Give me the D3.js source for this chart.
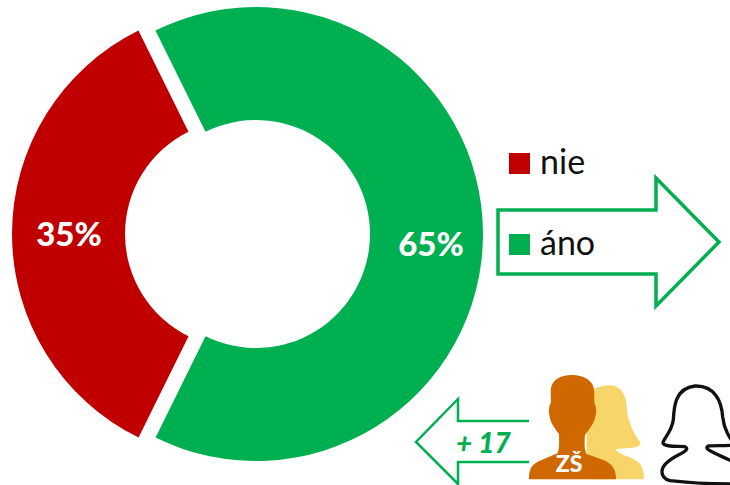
<!DOCTYPE html>
<html>
<head>
<meta charset="utf-8">
<script src="https://cdn.jsdelivr.net/npm/d3@7"></script>
<style>
body { margin: 0; background: #fff; overflow: hidden; }
text { font-family: Lato, "Noto Sans", sans-serif; }
</style>
</head>
<body>
<div id="chart"></div>
<script>
var categories = ["áno", "nie"];
var values = [64.6, 35.4];
var percent_labels = ["65%", "35%"];
var colors = ["#00B050", "#C00000"];
var legend_order = ["nie", "áno"];

var width = 730, height = 485;
var center_x = 247.5, center_y = 234;
var outer_r = 227, inner_r = 114, explode = 8.5;
var start_deg = -26.3;
var label_shift = [[4.5, 10], [0.5, 0]];

var svg = d3.select("#chart")
    .append("svg")
    .attr("width", width)
    .attr("height", height);

var color = d3.scaleOrdinal().domain(categories).range(colors);

var pie = d3.pie()
    .sort(null)
    .startAngle(start_deg * Math.PI / 180)
    .endAngle((start_deg + 360) * Math.PI / 180);

var arc = d3.arc().innerRadius(inner_r).outerRadius(outer_r);

var slices = svg.append("g")
    .attr("transform", `translate(${center_x}, ${center_y})`)
    .selectAll("g")
    .data(pie(values))
    .enter()
    .append("g")
    .attr("transform", function(d) {
        var mid = (d.startAngle + d.endAngle) / 2;
        return `translate(${Math.sin(mid) * explode}, ${-Math.cos(mid) * explode})`;
    });

slices.append("path")
    .attr("d", arc)
    .attr("fill", function(d, i) { return color(categories[i]); });

slices.append("text")
    .attr("transform", function(d, i) {
        var c = arc.centroid(d);
        return `translate(${c[0] + label_shift[i][0]}, ${c[1] + label_shift[i][1]})`;
    })
    .attr("text-anchor", "middle")
    .attr("dy", "0.35em")
    .attr("fill", "#fff")
    .style("font-size", "33px")
    .style("font-weight", "900")
    .text(function(d, i) { return percent_labels[i]; });

// big arrow behind the legend
svg.append("path")
    .attr("d", "M498,210 H656 V178 L719,242 L656,306 V274 H498 Z")
    .attr("fill", "#fff")
    .attr("stroke", "#00B050")
    .attr("stroke-width", 3.5);

var legend_y = d3.scalePoint().domain(legend_order).range([153, 234]);

var legend = svg.selectAll(".legend")
    .data(legend_order)
    .enter()
    .append("g")
    .attr("class", "legend")
    .attr("transform", function(d) { return `translate(509, ${legend_y(d)})`; });

legend.append("rect")
    .attr("width", 21)
    .attr("height", 21)
    .attr("fill", function(d) { return color(d); });

legend.append("text")
    .attr("x", 31)
    .attr("y", 21)
    .attr("fill", "#111")
    .style("font-size", "34px")
    .text(function(d) { return d; });

// small arrow, open on the right side
svg.append("path")
    .attr("d", "M529,421 H458 V399 L416,442 L458,484 V462 H529")
    .attr("fill", "none")
    .attr("stroke", "#00B050")
    .attr("stroke-width", 2.5);

svg.append("text")
    .attr("x", 456)
    .attr("y", 453)
    .attr("fill", "#00B050")
    .style("font-size", "28px")
    .style("font-weight", "900")
    .style("font-style", "italic")
    .text("+ 17");

// people icons
var icons = svg.append("g").attr("transform", "translate(400, 360) scale(0.3333)");

icons.append("path")
    .attr("fill", "#F8D568")
    .attr("d", "M560,358 L560,200 L585,85 C600,78 620,75 635,76 C665,80 680,110 680,140 C682,180 700,220 720,245 C725,258 710,263 690,263 L645,268 C660,285 690,290 705,300 C725,310 732,330 732,358 Z");

icons.append("path")
    .attr("fill", "#D06800")
    .attr("d", "M387,358 C387,325 395,312 425,300 L472,280 C478,270 478,250 477,222 C465,205 452,190 449,170 C445,150 447,135 453,128 L452,95 C452,60 480,45 515,45 C555,45 583,65 583,95 L583,128 C590,140 590,155 586,172 C580,195 565,210 555,225 C553,250 553,270 560,282 L610,300 C640,312 648,330 648,358 Z");

icons.append("path")
    .attr("fill", "none")
    .attr("stroke", "#111")
    .attr("stroke-width", 10)
    .attr("d", "M786,335 C786,315 810,298 835,285 C855,275 868,266 855,260 C835,258 790,262 789,248 C790,238 815,215 820,180 C822,140 825,85 885,78 C945,76 965,125 968,170 C972,210 990,235 1005,255 C990,258 935,256 925,258 C905,268 960,285 1005,308 L1005,372 C950,372 860,368 810,362 C795,358 786,348 786,335 Z");

svg.append("text")
    .attr("x", 569)
    .attr("y", 472)
    .attr("text-anchor", "middle")
    .attr("fill", "#fff")
    .style("font-size", "23px")
    .style("font-weight", "900")
    .text("ZŠ");
</script>
</body>
</html>
